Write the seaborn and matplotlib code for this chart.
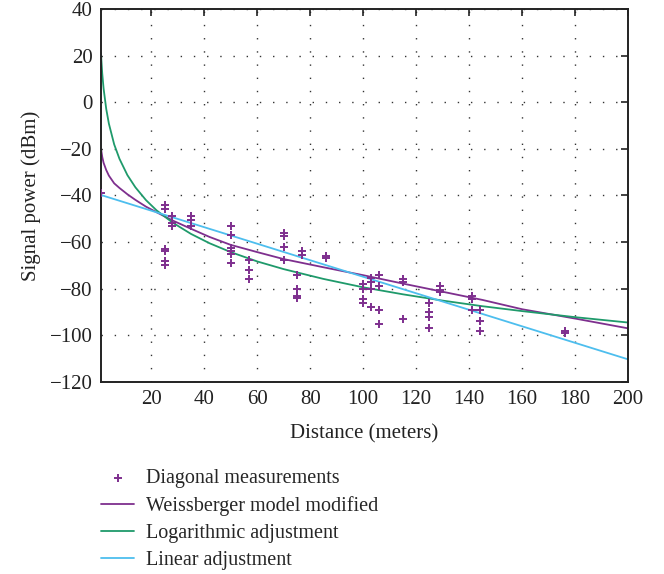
import matplotlib
matplotlib.use("Agg")
import matplotlib.pyplot as plt
import seaborn as sns
import pandas as pd

# ---- data ----
meas_x = [1,
          25, 25, 25, 25, 25, 25,
          28, 28, 28,
          35, 35, 35,
          50, 50, 50, 50, 50, 50,
          57, 57, 57,
          70, 70, 70, 70,
          77, 77,
          75, 75, 75, 75,
          86, 86,
          100, 100, 100, 100,
          103, 103, 103, 103,
          106, 106, 106, 106,
          115, 115, 115,
          125, 125, 125, 125,
          129, 129, 129,
          141, 141, 141,
          144, 144, 144,
          176, 176]
meas_y = [-39,
          -44, -46, -63, -64, -68, -70,
          -49, -52, -53,
          -49, -50.5, -53,
          -53, -57, -62.5, -64, -65, -69,
          -67.5, -72, -76,
          -56, -57.5, -62, -67.5,
          -64, -65.5,
          -74, -80, -83, -84,
          -66, -67,
          -78, -80, -84.5, -86,
          -75.5, -77, -80, -88,
          -74, -79, -89, -95,
          -76, -77, -93,
          -86, -90, -92, -97,
          -79, -80.5, -81.5,
          -83, -84.5, -89,
          -89, -94, -98,
          -98, -99]

curve_x = [1, 1.5, 2, 3, 4, 6, 8, 11, 14, 18, 22, 28, 35, 42, 50, 60, 70,
           85, 100, 115, 130, 145, 160, 180, 200]
weiss_y = [-19.8, -23.5, -26, -29.1, -31.5, -34.8, -36.8, -39.5, -41.9, -44.8,
           -47.2, -50.7, -54.3, -57.8, -61.2, -64.3, -67.3, -70.8, -74.2,
           -77.8, -81.3, -84.8, -88.8, -92.8, -97]
log_y = [21, 12.2, 5.9, -2.9, -9.2, -18.1, -24.3, -31.3, -36.5, -42.0, -46.4,
         -51.6, -56.5, -60.5, -64.3, -68.3, -71.6, -75.8, -79.4, -82.4, -85.1,
         -87.5, -89.6, -92.2, -94.5]
lin_x = [1, 200]
lin_y = [-39.8, -110.3]

x_ticks = [20, 40, 60, 80, 100, 120, 140, 160, 180, 200]
y_ticks = [-120, -100, -80, -60, -40, -20, 0, 20, 40]

labels = ["Diagonal measurements", "Weissberger model modified",
          "Logarithmic adjustment", "Linear adjustment"]

# ---- style ----
sns.set_theme(style="white")
plt.rcParams["font.family"] = ["Liberation Serif", "DejaVu Serif"]
plt.rcParams["font.size"] = 14.5

purple = "#7E2F8E"
green = "#1F9A6B"
blue = "#4DBEEE"

fig = plt.figure(figsize=(6.64, 5.74), dpi=100)
ax = fig.add_axes([0.152, 0.3345, 0.794, 0.650])

meas = pd.DataFrame({"x": meas_x, "y": meas_y})
sns.scatterplot(data=meas, x="x", y="y", marker="+", color=purple, s=32,
                linewidth=1.4, ax=ax, label=labels[0], zorder=3)
sns.lineplot(x=curve_x, y=weiss_y, color=purple, linewidth=1.3, ax=ax,
             label=labels[1], sort=False)
sns.lineplot(x=curve_x, y=log_y, color=green, linewidth=1.3, ax=ax,
             label=labels[2], sort=False)
sns.lineplot(x=lin_x, y=lin_y, color=blue, linewidth=1.3, ax=ax,
             label=labels[3], sort=False)

ax.set_xlim(1, 200)
ax.set_ylim(-120, 40)
ax.set_xticks(x_ticks)
ax.set_yticks(y_ticks)
ax.grid(True, color="#333333", linestyle=(0, (1, 8.5)), linewidth=1.0)
ax.tick_params(direction="in", length=5, width=1.2, top=True, right=True,
               labelsize=15, colors="#222222", pad=6)
for s in ax.spines.values():
    s.set_visible(True)
    s.set_color("#222222")
    s.set_linewidth(1.4)

ax.set_xlabel("Distance (meters)", fontsize=15, color="#222222", labelpad=11)
ax.set_ylabel("Signal power (dBm)", fontsize=15, color="#222222", labelpad=6)

handles, labs = ax.get_legend_handles_labels()
ax.legend_.remove()
fig.legend(handles, labs, loc="upper left", bbox_to_anchor=(0.14, 0.197),
           frameon=False, fontsize=14.5, handlelength=1.65, handletextpad=0.6,
           labelspacing=0.40, borderaxespad=0)

fig.savefig("out.png", dpi=100)
